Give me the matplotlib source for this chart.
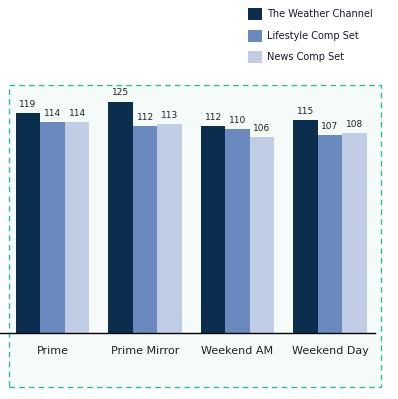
import numpy as np
import matplotlib
matplotlib.use('Agg')
import matplotlib.pyplot as plt
from matplotlib.patches import Rectangle

categories = ['Prime', 'Prime Mirror', 'Weekend AM', 'Weekend Day']
series_names = ['The Weather Channel', 'Lifestyle Comp Set', 'News Comp Set']
weather = [119, 125, 112, 115]
lifestyle = [114, 112, 110, 107]
news = [114, 113, 106, 108]
colors = ['#0b2e4f', '#6a8abf', '#c1cde4']

W, H = 398, 399
fig = plt.figure(figsize=(W / 100, H / 100), dpi=100)
fig.patch.set_facecolor('white')

# dashed frame with light background
frame = Rectangle((9 / W, 1 - 387 / H), (381 - 9) / W, (387 - 85) / H,
                  transform=fig.transFigure, facecolor='#f5fbf8',
                  edgecolor='#2fc083', linestyle=(0, (4, 3)), linewidth=1, zorder=-1)
fig.patches.append(frame)

ax = fig.add_axes([0, 1 - 333 / H, 375 / W, (333 - 85) / H])
ax.set_zorder(2)
ax.patch.set_visible(False)

x = np.arange(len(categories))
w = 0.265
for i, (vals, c) in enumerate(zip([weather, lifestyle, news], colors)):
    bars = ax.bar(x + (i - 1) * w, vals, w, color=c, label=series_names[i])
    for b, v in zip(bars, vals):
        ax.annotate(str(v), (b.get_x() + b.get_width() / 2, v), xytext=(0, 3),
                    textcoords='offset points', ha='center', va='bottom',
                    fontsize=6.5, color='#222222')

ax.set_xlim(-0.568, 3.486)
ax.set_ylim(0, 134)
for s in ['top', 'right', 'left']:
    ax.spines[s].set_visible(False)
ax.spines['bottom'].set_color('black')
ax.spines['bottom'].set_linewidth(1)
ax.set_yticks([])
ax.set_xticks(x)
ax.set_xticklabels(categories, fontsize=8, color='#222222')
ax.tick_params(axis='x', length=0, pad=9)

# legend
ly = [14, 36, 57]
for name, c, yy in zip(series_names, colors, ly):
    fig.patches.append(Rectangle((248 / W, 1 - (yy + 6) / H), 14 / W, 12 / H,
                                 transform=fig.transFigure, facecolor=c,
                                 edgecolor='none'))
    fig.text(267 / W, 1 - yy / H, name, fontsize=7, va='center', ha='left',
             color='#1a1a2a')

fig.savefig('out.png', dpi=100)
